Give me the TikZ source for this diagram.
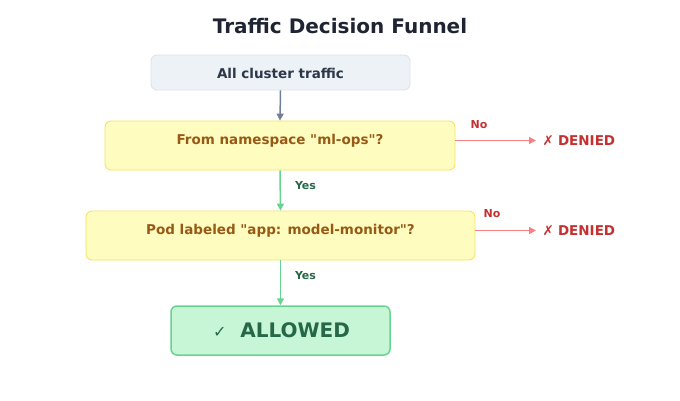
\documentclass[tikz,border=0pt]{standalone}
\usepackage{fontspec}
\setmainfont{DejaVu Sans}[Ligatures=TeXOff]
\newfontfamily\symfont{DejaVu Sans}
\usetikzlibrary{arrows.meta}
\definecolor{titlec}{HTML}{1F2433}
\definecolor{startfill}{HTML}{EDF2F7}
\definecolor{startdraw}{HTML}{D9E2EC}
\definecolor{starttext}{HTML}{2D3748}
\definecolor{grayarrow}{HTML}{718096}
\definecolor{qfill}{HTML}{FEFCBF}
\definecolor{qdraw}{HTML}{F6E05E}
\definecolor{qtext}{HTML}{975A16}
\definecolor{redline}{HTML}{F78080}
\definecolor{redtext}{HTML}{C53030}
\definecolor{greenline}{HTML}{68D391}
\definecolor{greentext}{HTML}{276749}
\definecolor{okfill}{HTML}{C6F6D5}
\tikzset{
  boxbase/.style={rounded corners=6pt, line width=0.8pt, inner sep=0pt},
  startbox/.style={boxbase, fill=startfill, draw=startdraw},
  qbox/.style={boxbase, fill=qfill, draw=qdraw},
  okbox/.style={boxbase, fill=okfill, draw=greenline, line width=1.5pt},
  arr/.style={line width=1.5pt, -{Triangle[length=7pt,width=7pt]}},
  lbl/.style={font=\bfseries\fontsize{11}{13}\selectfont, inner sep=0pt},
  qtxt/.style={font=\bfseries\fontsize{13.5}{16}\selectfont, text=qtext, inner sep=0pt},
  deny/.style={font=\bfseries\fontsize{13.5}{16}\selectfont, text=redtext, anchor=west, inner xsep=6.5pt, inner ysep=0pt},
}
\begin{document}
\begin{tikzpicture}[x=1pt,y=-1pt]
\useasboundingbox (0,0) rectangle (680,400);
\node[font=\bfseries\fontsize{20}{24}\selectfont, text=titlec] (title) at (340,26) {Traffic Decision Funnel};
% start box
\node[startbox, minimum width=259pt, minimum height=35pt] (b1) at (280.5,72.5) {};
\node[font=\bfseries\fontsize{13.5}{16}\selectfont, text=starttext] (t1) at (280.5,73) {All cluster traffic};
% question 1
\node[qbox, minimum width=350pt, minimum height=49pt] (b2) at (280,145.5) {};
\node[qtxt] (t2) at (280,141) {From namespace "ml-ops"?};
% question 2
\node[qbox, minimum width=389pt, minimum height=49pt] (b3) at (280.5,235.5) {};
\node[qtxt] (t3) at (280.5,231) {Pod labeled "app: model-monitor"?};
% allowed
\node[okbox, minimum width=219pt, minimum height=49pt] (b4) at (280.5,330.5) {};
\node[font=\bfseries\fontsize{20}{24}\selectfont, text=greentext] (t4) at (281.5,330.5) {{\symfont\mdseries\fontsize{16}{18}\selectfont ✓}\hspace{14pt}ALLOWED};
% denied
\node[deny] (d1) at (536,140.5) {{\symfont\mdseries ✗}\hspace{4pt}DENIED};
\node[deny] (d2) at (536,230.5) {{\symfont\mdseries ✗}\hspace{4pt}DENIED};
% connectors
\draw[arr, grayarrow] (b1.south) -- (b2.north);
\draw[arr, greenline] (b2.south) -- (b3.north);
\draw[arr, greenline] (b3.south) -- (b4.north);
\draw[arr, redline] (b2.east |- d1.west) -- (d1.west);
\draw[arr, redline] (b3.east |- d2.west) -- (d2.west);
\node[lbl, text=greentext] (y1) at (305.5,185.5) {Yes};
\node[lbl, text=greentext] (y2) at (305.5,275.5) {Yes};
\node[lbl, text=redtext] (n1) at (479,125) {No};
\node[lbl, text=redtext] (n2) at (492,214) {No};
\end{tikzpicture}
\end{document}
